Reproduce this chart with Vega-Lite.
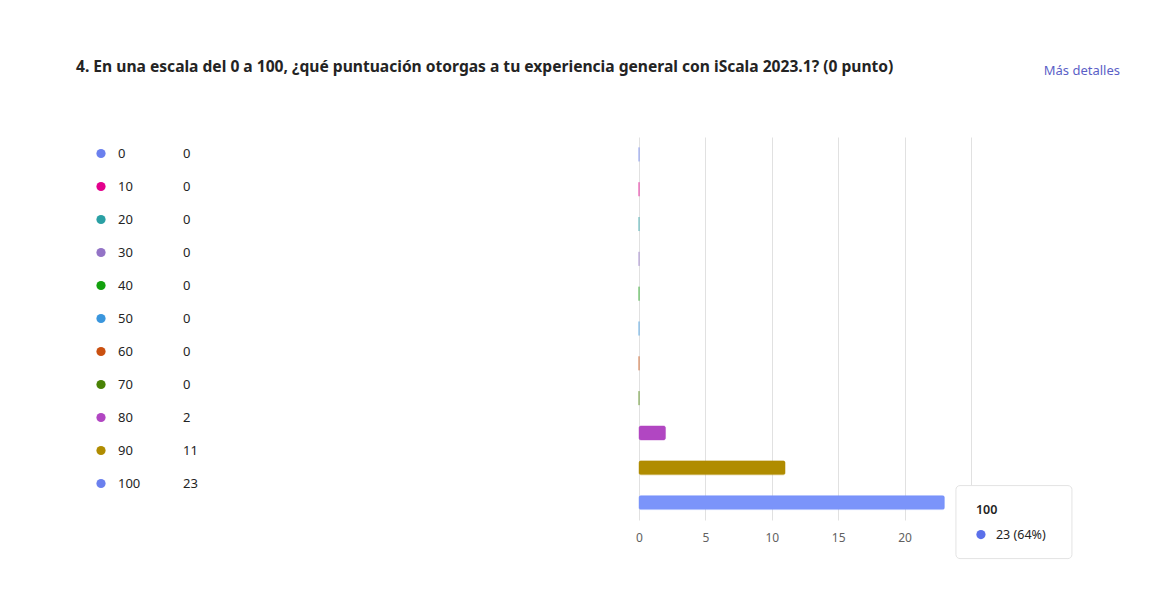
{
  "$schema": "https://vega.github.io/schema/vega-lite/v6.json",
  "background": "white",
  "padding": {"left": 76, "top": 60, "right": 0, "bottom": 20},
  "title": {
    "text": "4. En una escala del 0 a 100, ¿qué puntuación otorgas a tu experiencia general con iScala 2023.1? (0 punto)",
    "anchor": "start",
    "font": "Noto Sans",
    "fontSize": 15.6,
    "fontWeight": "bold",
    "color": "#242424",
    "offset": -11
  },
  "datasets": {
    "responses": [
      {"option": "0", "count": 0},
      {"option": "10", "count": 0},
      {"option": "20", "count": 0},
      {"option": "30", "count": 0},
      {"option": "40", "count": 0},
      {"option": "50", "count": 0},
      {"option": "60", "count": 0},
      {"option": "70", "count": 0},
      {"option": "80", "count": 2},
      {"option": "90", "count": 11},
      {"option": "100", "count": 23}
    ],
    "hover": [
      {"option": "100", "count": 23, "label": "23 (64%)"}
    ]
  },
  "spacing": 437,
  "hconcat": [
    {
      "width": 50,
      "height": 363,
      "data": {"name": "responses"},
      "encoding": {
        "y": {
          "field": "option",
          "type": "nominal",
          "sort": null,
          "axis": null,
          "scale": {"domain": ["0", "10", "20", "30", "40", "50", "60", "70", "80", "90", "100"]}
        }
      },
      "layer": [
        {
          "mark": {"type": "point", "filled": true, "size": 85, "opacity": 1},
          "encoding": {
            "color": {
              "field": "option",
              "type": "nominal",
              "legend": null,
              "scale": {
                "domain": ["0", "10", "20", "30", "40", "50", "60", "70", "80", "90", "100"],
                "range": ["#6b80ee", "#e3008c", "#2aa0a4", "#9373c6", "#13a10e", "#3a96dd", "#ca5010", "#498205", "#b146c2", "#b08c00", "#6b80ee"]
              }
            }
          }
        },
        {
          "mark": {"type": "text", "align": "left", "baseline": "middle", "dx": 17, "fontSize": 13, "color": "#242424", "font": "Noto Sans"},
          "encoding": {"text": {"field": "option"}}
        },
        {
          "mark": {"type": "text", "align": "left", "baseline": "middle", "dx": 82, "fontSize": 13, "color": "#242424", "font": "Noto Sans"},
          "encoding": {"text": {"field": "count"}}
        }
      ]
    },
    {
      "width": 481,
      "height": 383,
      "title": {
        "text": "Más detalles",
        "anchor": "end",
        "color": "#5b5fc7",
        "fontSize": 13,
        "fontWeight": "normal",
        "font": "Noto Sans",
        "offset": 59
      },
      "encoding": {
        "y": {
          "field": "option",
          "type": "nominal",
          "sort": null,
          "axis": null,
          "scale": {"domain": ["0", "10", "20", "30", "40", "50", "60", "70", "80", "90", "100"]}
        },
        "x": {
          "field": "count",
          "type": "quantitative",
          "scale": {"domain": [0, 36.22], "nice": false},
          "axis": {
            "values": [0, 5, 10, 15, 20, 25],
            "title": null,
            "grid": true,
            "gridColor": "#e1e1e1",
            "domain": false,
            "ticks": false,
            "labelFlush": false,
            "labelPadding": 12,
            "labelFontSize": 12,
            "labelColor": "#616161",
            "labelFont": "Noto Sans",
            "zindex": 0
          }
        }
      },
      "layer": [
        {
          "data": {"name": "responses"},
          "mark": {"type": "bar", "size": 14, "cornerRadius": 2, "strokeWidth": 1, "strokeOpacity": 0.45},
          "encoding": {
            "fill": {
              "field": "option",
              "type": "nominal",
              "legend": null,
              "scale": {
                "domain": ["0", "10", "20", "30", "40", "50", "60", "70", "80", "90", "100"],
                "range": ["#6b80ee", "#e3008c", "#2aa0a4", "#9373c6", "#13a10e", "#3a96dd", "#ca5010", "#498205", "#b146c2", "#b08c00", "#7b94fa"]
              }
            },
            "stroke": {
              "field": "option",
              "type": "nominal",
              "legend": null,
              "scale": {
                "domain": ["0", "10", "20", "30", "40", "50", "60", "70", "80", "90", "100"],
                "range": ["#6b80ee", "#e3008c", "#2aa0a4", "#9373c6", "#13a10e", "#3a96dd", "#ca5010", "#498205", "#b146c2", "#b08c00", "#7b94fa"]
              }
            }
          }
        },
        {
          "data": {"name": "hover"},
          "mark": {"type": "rect", "height": 73, "yOffset": 19.5, "xOffset": 11.5, "x2Offset": 127.5, "fill": "white", "stroke": "#e3e3e3", "strokeWidth": 1, "cornerRadius": 4},
          "encoding": {"x2": {"field": "count"}}
        },
        {
          "data": {"name": "hover"},
          "mark": {"type": "text", "align": "left", "baseline": "middle", "dx": 31.5, "dy": 7, "fontSize": 12.5, "fontWeight": 600, "color": "#242424", "font": "Noto Sans"},
          "encoding": {"text": {"field": "option"}}
        },
        {
          "data": {"name": "hover"},
          "mark": {"type": "point", "filled": true, "size": 85, "opacity": 1, "color": "#5b70ea", "xOffset": 36.5, "yOffset": 32},
          "encoding": {}
        },
        {
          "data": {"name": "hover"},
          "mark": {"type": "text", "align": "left", "baseline": "middle", "dx": 51.5, "dy": 32, "fontSize": 12.5, "color": "#242424", "font": "Noto Sans"},
          "encoding": {"text": {"field": "label"}}
        }
      ]
    }
  ],
  "resolve": {"scale": {"color": "independent", "fill": "independent", "stroke": "independent"}},
  "config": {
    "view": {"stroke": null},
    "font": "Noto Sans"
  }
}
